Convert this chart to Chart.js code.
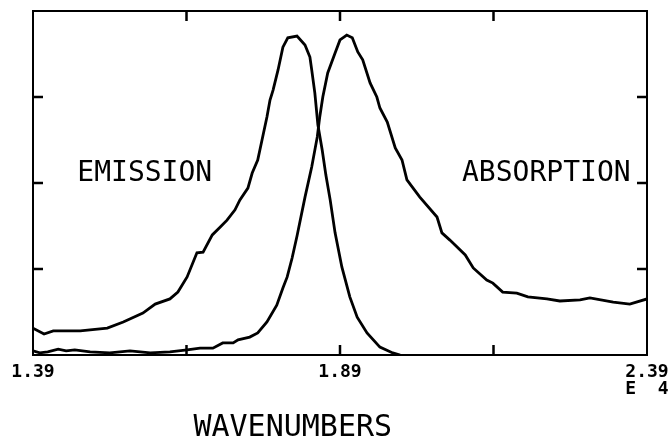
<!DOCTYPE html>
<html>
<head>
<meta charset="utf-8">
<script src="https://cdn.jsdelivr.net/npm/chart.js@4.4.1/dist/chart.umd.min.js"></script>
<style>
  html, body { margin: 0; padding: 0; background: #fff; }
  #wrap { width: 670px; height: 438px; }
</style>
</head>
<body>
<div id="wrap"><canvas id="spectrum"></canvas></div>
<script>
// --- data (x in units of 1E4 wavenumbers, y relative) ---
const emissionX = [1.390, 1.408, 1.423, 1.467, 1.511, 1.537, 1.569, 1.589, 1.613, 1.626,
  1.641, 1.657, 1.667, 1.682, 1.695, 1.706, 1.719, 1.727, 1.740, 1.747,
  1.756, 1.763, 1.771, 1.776, 1.781, 1.789, 1.797, 1.805, 1.820, 1.833,
  1.841, 1.844, 1.849, 1.854, 1.861, 1.867, 1.874, 1.882, 1.893, 1.906,
  1.918, 1.934, 1.955, 1.976, 1.988];
const emissionY = [0.078, 0.061, 0.070, 0.070, 0.078, 0.096, 0.122, 0.148, 0.163, 0.183,
  0.227, 0.297, 0.299, 0.349, 0.372, 0.392, 0.422, 0.451, 0.485, 0.529,
  0.567, 0.625, 0.692, 0.741, 0.770, 0.828, 0.895, 0.922, 0.927, 0.901,
  0.866, 0.828, 0.762, 0.669, 0.596, 0.523, 0.451, 0.355, 0.256, 0.169,
  0.110, 0.064, 0.023, 0.006, 0.000];

const absorptionX = [1.390, 1.401, 1.414, 1.431, 1.444, 1.458, 1.483, 1.515, 1.548, 1.581,
  1.613, 1.641, 1.662, 1.683, 1.699, 1.716, 1.724, 1.743, 1.756, 1.771,
  1.787, 1.797, 1.804, 1.812, 1.820, 1.833, 1.844, 1.853, 1.857, 1.862,
  1.870, 1.882, 1.890, 1.901, 1.910, 1.919, 1.927, 1.939, 1.950, 1.955,
  1.967, 1.980, 1.991, 1.999, 2.020, 2.048, 2.056, 2.069, 2.094, 2.107,
  2.129, 2.139, 2.155, 2.178, 2.196, 2.227, 2.248, 2.281, 2.297, 2.335,
  2.362, 2.390];
const absorptionY = [0.012, 0.006, 0.009, 0.017, 0.012, 0.015, 0.009, 0.006, 0.012, 0.006,
  0.009, 0.015, 0.020, 0.020, 0.035, 0.035, 0.044, 0.052, 0.064, 0.096,
  0.145, 0.195, 0.227, 0.282, 0.346, 0.459, 0.547, 0.634, 0.692, 0.750,
  0.820, 0.878, 0.916, 0.930, 0.922, 0.881, 0.858, 0.791, 0.750, 0.718,
  0.677, 0.602, 0.567, 0.509, 0.459, 0.401, 0.355, 0.334, 0.291, 0.253,
  0.218, 0.209, 0.183, 0.180, 0.169, 0.163, 0.157, 0.160, 0.166, 0.154,
  0.148, 0.163];

const xTicks = [1.39, 1.64, 1.89, 2.14, 2.39];
const xTickLabels = ['1.39', '', '1.89', '', ['2.39', 'E  4']];
const yTicks = [0, 0.25, 0.5, 0.75, 1];

const curveLabels = [
  { text: 'EMISSION', x: 1.572, y: 0.526 },
  { text: 'ABSORPTION', x: 2.226, y: 0.526 }
];
const axisTitle = { text: 'WAVENUMBERS', x: 1.813 };

// --- helpers ---
const toPoints = (xs, ys) => xs.map((x, i) => ({ x: x, y: ys[i] }));

// Frame, inward tick marks and free text labels
const plotterFrame = {
  id: 'plotterFrame',
  afterDraw(chart) {
    const { ctx, chartArea: a, scales } = chart;
    const xs = scales.x, ys = scales.y;
    const tick = 10;
    ctx.save();
    ctx.strokeStyle = '#000';
    ctx.lineWidth = 2;
    ctx.strokeRect(a.left, a.top, a.right - a.left, a.bottom - a.top);

    ctx.lineWidth = 2.5;
    ctx.beginPath();
    xTicks.slice(1, -1).forEach(v => {
      const px = xs.getPixelForValue(v);
      ctx.moveTo(px, a.bottom); ctx.lineTo(px, a.bottom - tick);
      ctx.moveTo(px, a.top); ctx.lineTo(px, a.top + tick);
    });
    yTicks.slice(1, -1).forEach(v => {
      const py = ys.getPixelForValue(v);
      ctx.moveTo(a.left, py); ctx.lineTo(a.left + tick, py);
      ctx.moveTo(a.right, py); ctx.lineTo(a.right - tick, py);
    });
    ctx.stroke();

    ctx.fillStyle = '#000';
    ctx.textAlign = 'center';
    ctx.textBaseline = 'middle';
    ctx.font = '28px "DejaVu Sans Mono"';
    curveLabels.forEach(l => {
      ctx.fillText(l.text, xs.getPixelForValue(l.x), ys.getPixelForValue(l.y));
    });
    ctx.font = '30px "DejaVu Sans Mono"';
    ctx.fillText(axisTitle.text, xs.getPixelForValue(axisTitle.x), 428);
    ctx.restore();
  }
};

new Chart(document.getElementById('spectrum'), {
  type: 'scatter',
  data: {
    datasets: [
      { label: 'Emission', data: toPoints(emissionX, emissionY) },
      { label: 'Absorption', data: toPoints(absorptionX, absorptionY) }
    ]
  },
  options: {
    responsive: true,
    maintainAspectRatio: false,
    animation: false,
    showLine: true,
    layout: { padding: { left: 33, right: 23, top: 11, bottom: 35 } },
    elements: {
      line: { borderColor: '#000', borderWidth: 2.8, tension: 0, fill: false },
      point: { radius: 0, hoverRadius: 0 }
    },
    plugins: { legend: { display: false }, tooltip: { enabled: false } },
    scales: {
      x: {
        type: 'linear',
        min: 1.39,
        max: 2.39,
        afterBuildTicks: s => { s.ticks = xTicks.map(v => ({ value: v })); },
        afterFit: s => { s.height = 48; s.paddingLeft = 0; s.paddingRight = 0; },
        grid: { display: false },
        border: { display: false },
        ticks: {
          autoSkip: false,
          maxRotation: 0,
          padding: 1,
          color: '#000',
          font: { family: 'DejaVu Sans Mono', size: 18, weight: 'bold', lineHeight: 0.95 },
          callback: (v, i) => xTickLabels[i]
        }
      },
      y: {
        display: false,
        min: 0,
        max: 1
      }
    }
  },
  plugins: [plotterFrame]
});
</script>
</body>
</html>
